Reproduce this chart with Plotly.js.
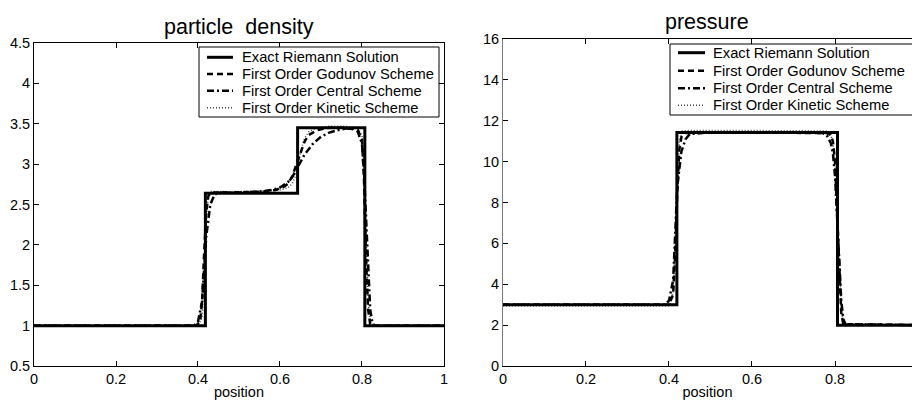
<!DOCTYPE html>
<html>
<head>
<meta charset="utf-8">
<script src="https://cdn.plot.ly/plotly-3.0.1.min.js"></script>
<style>html,body{margin:0;padding:0;background:#fff;}#chart{width:912px;height:400px;}</style>
</head>
<body>
<div id="chart"></div>
<script>
// ---- names and ticks ----
const seriesNames = ["Exact Riemann Solution", "First Order Godunov Scheme", "First Order Central Scheme", "First Order Kinetic Scheme"];
const xTicks = [0, 0.2, 0.4, 0.6, 0.8, 1];
const xTickLabels = ["0", "0.2", "0.4", "0.6", "0.8", "1"];
const rhoTicks = [0.5, 1, 1.5, 2, 2.5, 3, 3.5, 4, 4.5];
const pTicks = [0, 2, 4, 6, 8, 10, 12, 14, 16];

// ---- data: particle density ----
const rhoExactX = [0, 0.418, 0.418, 0.643, 0.643, 0.807, 0.807, 1];
const rhoExactY = [1, 1, 2.64, 2.64, 3.45, 3.45, 1, 1];

const rhoGodX = [0, 0.395, 0.405, 0.41, 0.415, 0.42, 0.425, 0.43, 0.44, 0.50, 0.56, 0.59, 0.61, 0.62, 0.63, 0.64, 0.65, 0.66, 0.67, 0.69, 0.72, 0.76, 0.79, 0.80, 0.805, 0.81, 0.815, 0.82, 0.83, 1];
const rhoGodY = [1, 1, 1.05, 1.3, 1.9, 2.4, 2.6, 2.64, 2.65, 2.65, 2.66, 2.68, 2.72, 2.76, 2.85, 3.0, 3.15, 3.28, 3.36, 3.42, 3.45, 3.45, 3.42, 3.3, 2.8, 1.8, 1.2, 1.02, 1, 1];

const rhoCenX = [0, 0.39, 0.40, 0.41, 0.415, 0.42, 0.43, 0.44, 0.45, 0.50, 0.55, 0.58, 0.60, 0.62, 0.63, 0.64, 0.65, 0.66, 0.68, 0.70, 0.72, 0.74, 0.76, 0.78, 0.79, 0.80, 0.805, 0.81, 0.815, 0.82, 0.825, 0.83, 1];
const rhoCenY = [1, 1, 1.05, 1.3, 1.7, 2.1, 2.5, 2.62, 2.65, 2.65, 2.66, 2.68, 2.71, 2.78, 2.84, 2.93, 3.03, 3.12, 3.25, 3.34, 3.39, 3.42, 3.44, 3.44, 3.4, 3.25, 2.9, 2.3, 1.6, 1.2, 1.05, 1, 1];

const rhoKinX = [0, 0.40, 0.41, 0.415, 0.42, 0.425, 0.43, 0.45, 0.55, 0.60, 0.62, 0.63, 0.64, 0.65, 0.66, 0.67, 0.69, 0.72, 0.76, 0.79, 0.80, 0.805, 0.81, 0.815, 0.82, 0.83, 1];
const rhoKinY = [1, 1, 1.1, 1.6, 2.3, 2.6, 2.66, 2.66, 2.66, 2.68, 2.71, 2.76, 2.88, 3.15, 3.32, 3.4, 3.45, 3.47, 3.47, 3.45, 3.35, 3.0, 2.0, 1.3, 1.05, 1, 1];

// ---- data: pressure ----
const pExactX = [0, 0.419, 0.419, 0.806, 0.806, 1];
const pExactY = [3, 3, 11.43, 11.43, 2, 2];

const pGodX = [0, 0.40, 0.41, 0.415, 0.42, 0.425, 0.43, 0.44, 0.50, 0.70, 0.78, 0.79, 0.795, 0.80, 0.805, 0.81, 0.815, 0.82, 1];
const pGodY = [3, 3, 3.5, 5.5, 8.5, 10.6, 11.2, 11.4, 11.43, 11.43, 11.4, 11.3, 11.0, 10.0, 7.5, 4.5, 2.6, 2.05, 2];

const pCenX = [0, 0.39, 0.40, 0.41, 0.415, 0.42, 0.43, 0.44, 0.45, 0.50, 0.70, 0.77, 0.78, 0.79, 0.795, 0.80, 0.805, 0.81, 0.815, 0.82, 0.825, 1];
const pCenY = [3, 3, 3.2, 4.2, 6.5, 8.8, 10.5, 11.1, 11.35, 11.43, 11.43, 11.4, 11.3, 10.9, 10.4, 9.3, 7.3, 5.0, 3.2, 2.3, 2.05, 2];

const pKinX = [0, 0.40, 0.41, 0.415, 0.42, 0.425, 0.43, 0.45, 0.60, 0.75, 0.78, 0.79, 0.80, 0.805, 0.81, 0.815, 0.82, 1];
const pKinY = [2.95, 2.95, 3.6, 6.0, 9.0, 11.0, 11.5, 11.52, 11.52, 11.52, 11.5, 11.35, 10.3, 8.0, 5.0, 2.8, 2.05, 2];

// ---- styles ----
const styles = [
  {color: "#000", width: 3, dash: "solid"},
  {color: "#000", width: 2.5, dash: "6px,4px"},
  {color: "#000", width: 2.5, dash: "7px,3px,2px,3px"},
  {color: "#444", width: 1.5, dash: "1px,2px"}
];

const rhoSets = [[rhoExactX, rhoExactY], [rhoGodX, rhoGodY], [rhoCenX, rhoCenY], [rhoKinX, rhoKinY]];
const pSets = [[pExactX, pExactY], [pGodX, pGodY], [pCenX, pCenY], [pKinX, pKinY]];

const traces = [];
[3, 2, 1, 0].forEach(function (i) {
  traces.push({x: rhoSets[i][0], y: rhoSets[i][1], type: "scatter", mode: "lines", name: seriesNames[i],
    line: styles[i], xaxis: "x", yaxis: "y", showlegend: false});
});
[3, 2, 1, 0].forEach(function (i) {
  traces.push({x: pSets[i][0], y: pSets[i][1], type: "scatter", mode: "lines", name: seriesNames[i],
    line: styles[i], xaxis: "x2", yaxis: "y2", showlegend: false});
});

const FAM = "Liberation Sans, Arial, Helvetica, sans-serif";
function axisBase() {
  return {showgrid: false, zeroline: false, ticks: "inside", ticklen: 5, tickcolor: "#000",
    showline: true, linecolor: "#000", linewidth: 1, mirror: "ticks",
    tickfont: {family: FAM, size: 14.5, color: "#000"}};
}

const xa = Object.assign(axisBase(), {domain: [0.0373, 0.4868], range: [0, 1], tickvals: xTicks, ticktext: xTickLabels,
  title: {text: "position", font: {family: FAM, size: 14.5, color: "#000"}, standoff: 2}, anchor: "y"});
const ya = Object.assign(axisBase(), {domain: [0.085, 0.8925], range: [0.5, 4.5], tickvals: rhoTicks, anchor: "x"});
const xa2 = Object.assign(axisBase(), {domain: [0.5515, 1], range: [0, 0.9855], tickvals: xTicks, ticktext: xTickLabels,
  title: {text: "position", font: {family: FAM, size: 14.5, color: "#000"}, standoff: 2}, anchor: "y2"});
const ya2 = Object.assign(axisBase(), {domain: [0.085, 0.9025], range: [0, 16], tickvals: pTicks, anchor: "x2", mirror: false, linecolor: "#777"});

// ---- hand-built legend boxes (MATLAB style, compact rows) ----
const shapes = [];
const annotations = [];
function addLegend(box, rowY, sx0, sx1, tx, px) {
  shapes.push({type: "rect", xref: "paper", yref: "paper", x0: box[0] / 912, x1: box[1] / 912,
    y0: 1 - box[3] / 400, y1: 1 - box[2] / 400, line: {color: "#000", width: 1}, fillcolor: "#fff", layer: "above"});
  seriesNames.forEach(function (name, i) {
    const yy = 1 - rowY[i] / 400;
    shapes.push({type: "line", xref: "paper", yref: "paper", x0: sx0 / 912, x1: sx1 / 912, y0: yy, y1: yy,
      line: {color: styles[i].color, width: styles[i].width, dash: styles[i].dash}, layer: "above"});
    annotations.push({text: name, xref: "paper", yref: "paper", x: tx / 912, y: yy, xanchor: "left", yanchor: "middle",
      showarrow: false, font: {family: FAM, size: px, color: "#000"}});
  });
}
addLegend([199, 439, 47, 117], [57.3, 74, 90.7, 107.7], 207, 233, 240, 14.7);
addLegend([670, 925, 44, 115], [52.7, 70.7, 88.3, 105.3], 678, 705, 711, 14.7);

annotations.push({text: "particle  density", xref: "paper", yref: "paper", x: 0.2620, y: 1 - 27 / 400, xanchor: "center", yanchor: "middle",
  showarrow: false, font: {family: FAM, size: 21.5, color: "#000"}});
annotations.push({text: "pressure", xref: "paper", yref: "paper", x: 0.7757, y: 1 - 22 / 400, xanchor: "center", yanchor: "middle",
  showarrow: false, font: {family: FAM, size: 21.5, color: "#000"}});

const layout = {
  width: 912, height: 400,
  margin: {l: 0, r: 0, t: 0, b: 0},
  paper_bgcolor: "#fff", plot_bgcolor: "#fff",
  font: {family: FAM, color: "#000"},
  showlegend: false,
  xaxis: xa, yaxis: ya, xaxis2: xa2, yaxis2: ya2,
  shapes: shapes,
  annotations: annotations
};

Plotly.newPlot("chart", traces, layout, {displayModeBar: false, staticPlot: true});
</script>
</body>
</html>
